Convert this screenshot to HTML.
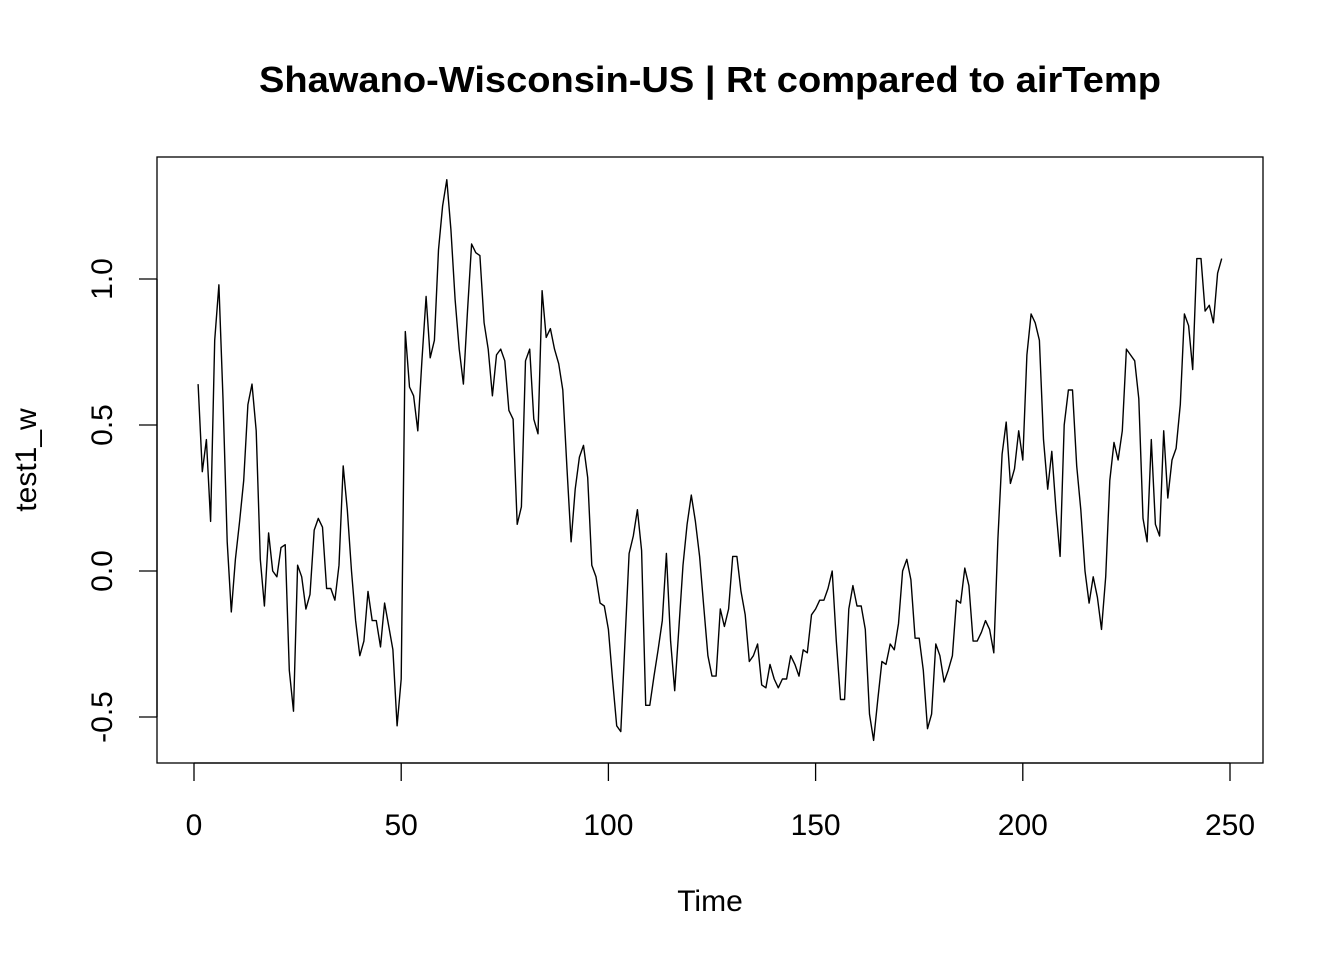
<!DOCTYPE html>
<html><head><meta charset="utf-8"><style>body{margin:0;background:#fff}svg{display:block;font-family:"Liberation Sans",Arial,sans-serif}</style></head>
<body>
<svg id="chart" width="1344" height="960" xmlns="http://www.w3.org/2000/svg">
<rect width="1344" height="960" fill="#fff"/>
<text x="710" y="92" text-anchor="middle" font-size="36" font-weight="bold" textLength="902" lengthAdjust="spacingAndGlyphs">Shawano-Wisconsin-US | Rt compared to airTemp</text>
<rect x="157" y="157" width="1106" height="606" fill="none" stroke="#000" stroke-width="1.3"/>
<text x="710" y="911" text-anchor="middle" font-size="30">Time</text>
<text transform="translate(36,460) rotate(-90)" text-anchor="middle" font-size="30">test1_w</text>
<g id="xaxis"></g>
<g id="yaxis"></g>
<path id="series" fill="none" stroke="#000" stroke-width="1.4" stroke-linejoin="round"/>
</svg>
<script>
const xTicks=[0,50,100,150,200,250];
const yTicks=[-0.5,0,0.5,1.0];
const yTickLabels=["-0.5","0.0","0.5","1.0"];
const values=[0.64,0.34,0.45,0.17,0.79,0.98,0.59,0.10,-0.14,0.04,0.17,0.31,0.57,0.64,0.48,0.04,-0.12,0.13,0.0,-0.02,0.08,0.09,-0.34,-0.48,0.02,-0.02,-0.13,-0.08,0.14,0.18,0.15,-0.06,-0.06,-0.10,0.02,0.36,0.21,0.0,-0.17,-0.29,-0.24,-0.07,-0.17,-0.17,-0.26,-0.11,-0.19,-0.27,-0.53,-0.37,0.82,0.63,0.60,0.48,0.72,0.94,0.73,0.79,1.10,1.25,1.34,1.17,0.93,0.76,0.64,0.89,1.12,1.09,1.08,0.85,0.76,0.60,0.74,0.76,0.72,0.55,0.52,0.16,0.22,0.72,0.76,0.52,0.47,0.96,0.80,0.83,0.76,0.71,0.62,0.35,0.10,0.28,0.39,0.43,0.32,0.02,-0.02,-0.11,-0.12,-0.20,-0.37,-0.53,-0.55,-0.24,0.06,0.12,0.21,0.07,-0.46,-0.46,-0.36,-0.27,-0.17,0.06,-0.24,-0.41,-0.20,0.02,0.16,0.26,0.17,0.05,-0.12,-0.29,-0.36,-0.36,-0.13,-0.19,-0.13,0.05,0.05,-0.07,-0.15,-0.31,-0.29,-0.25,-0.39,-0.40,-0.32,-0.37,-0.40,-0.37,-0.37,-0.29,-0.32,-0.36,-0.27,-0.28,-0.15,-0.13,-0.10,-0.10,-0.06,0.0,-0.24,-0.44,-0.44,-0.13,-0.05,-0.12,-0.12,-0.20,-0.49,-0.58,-0.44,-0.31,-0.32,-0.25,-0.27,-0.18,0.0,0.04,-0.03,-0.23,-0.23,-0.34,-0.54,-0.49,-0.25,-0.29,-0.38,-0.34,-0.29,-0.10,-0.11,0.01,-0.05,-0.24,-0.24,-0.21,-0.17,-0.20,-0.28,0.11,0.40,0.51,0.30,0.35,0.48,0.38,0.74,0.88,0.85,0.79,0.45,0.28,0.41,0.21,0.05,0.50,0.62,0.62,0.36,0.21,0.0,-0.11,-0.02,-0.09,-0.20,-0.02,0.31,0.44,0.38,0.48,0.76,0.74,0.72,0.59,0.18,0.10,0.45,0.16,0.12,0.48,0.25,0.38,0.42,0.57,0.88,0.84,0.69,1.07,1.07,0.89,0.91,0.85,1.02,1.07];
const NS="http://www.w3.org/2000/svg";
const xs=v=>194+(v)*(1230-194)/250;
const ys=v=>571-v*292;
const xa=document.getElementById('xaxis'),ya=document.getElementById('yaxis');
function mk(t,a){const e=document.createElementNS(NS,t);for(const k in a)e.setAttribute(k,a[k]);return e;}
const xl=mk('line',{x1:xs(xTicks[0]),x2:xs(xTicks[xTicks.length-1]),y1:763,y2:763,stroke:'#000','stroke-width':1.3});


xa.appendChild(xl);
xTicks.forEach(t=>{
 const l=mk('line',{x1:xs(t),x2:xs(t),y1:763,y2:781,stroke:'#000','stroke-width':1.3});
 
 
 xa.appendChild(l);
 const tx=mk('text',{x:xs(t),y:835,'text-anchor':'middle','font-size':30});tx.textContent=t;
 
 
 xa.appendChild(tx);
});
const yl=mk('line',{x1:157,x2:157,y1:ys(yTicks[0]),y2:ys(yTicks[yTicks.length-1]),stroke:'#000','stroke-width':1.3});


ya.appendChild(yl);
yTicks.forEach((t,i)=>{
 const l=mk('line',{x1:139,x2:157,y1:ys(t),y2:ys(t),stroke:'#000','stroke-width':1.3});
 
 
 ya.appendChild(l);
 const tx=mk('text',{transform:`translate(112,${ys(t)}) rotate(-90)`,'text-anchor':'middle','font-size':30});tx.textContent=yTickLabels[i];
 
 
 ya.appendChild(tx);
});
document.getElementById('series').setAttribute('d',values.map((v,i)=>(i?'L':'M')+xs(i+1).toFixed(1)+' '+ys(v).toFixed(1)).join(''));
</script>
</body></html>
